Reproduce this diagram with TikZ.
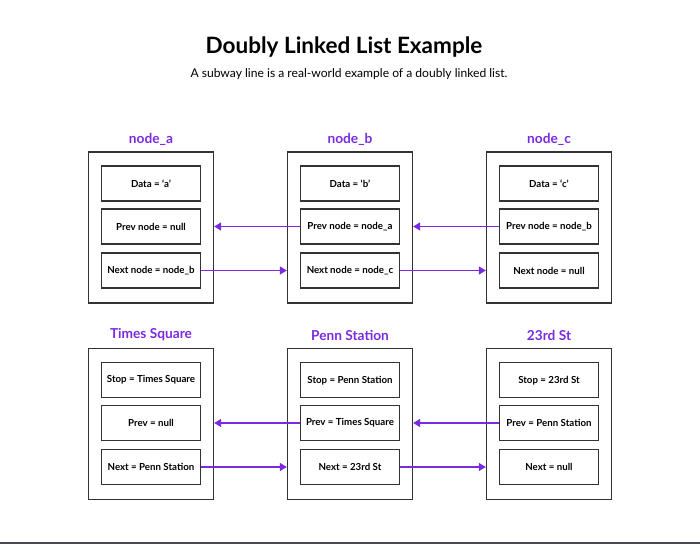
\documentclass[tikz,border=0pt]{standalone}
\usepackage{fontspec}
\setmainfont{Lato}
\usetikzlibrary{arrows.meta}
\definecolor{listpurple}{HTML}{7A2BE2}
\definecolor{boxgray}{HTML}{333333}
\definecolor{rulegray}{HTML}{4A4A55}
\tikzset{
	outerbox/.style={draw=boxgray, line width=1.3pt, minimum width=125pt, minimum height=151pt, inner sep=0pt},
	fieldbox/.style={draw=boxgray, line width=1.3pt, minimum width=99pt, minimum height=35pt, inner sep=0pt, font=\fontsize{9.7}{12}\selectfont\bfseries},
	heading/.style={text=listpurple, font=\fontsize{13.7}{16}\selectfont\bfseries},
	link/.style={draw=listpurple, line width=1.2pt, -{Triangle[length=7pt,width=8pt]}}
}

\begin{document}
\begin{tikzpicture}[x=1pt, y=-1pt]
		%%%%% START %%%%%
		\useasboundingbox (0,0) rectangle (700,544);
		
		\node (title) at (344,47) {\fontsize{22.5}{27}\selectfont\bfseries Doubly Linked List Example};
		\node (subtitle) at (349,74) {\fontsize{12.1}{14}\selectfont A subway line is a real-world example of a doubly linked list.};
		
		% top row
		\node[heading] (aHead) at (151,139) {node\_a};
		\node[outerbox] (aBox) at (151,227.5) {};
		\node[fieldbox] (aData) at (151,183.5) {Data = ‘a’};
		\node[fieldbox] (aPrev) at (151,226.5) {Prev node = null};
		\node[fieldbox] (aNext) at (151,270.5) {Next node = node\_b};
		
		\node[heading] (bHead) at (350,139) {node\_b};
		\node[outerbox] (bBox) at (350,227.5) {};
		\node[fieldbox] (bData) at (350,183.5) {Data = ‘b’};
		\node[fieldbox] (bPrev) at (350,226.5) {Prev node = node\_a};
		\node[fieldbox] (bNext) at (350,270.5) {Next node = node\_c};
		
		\node[heading] (cHead) at (549,139) {node\_c};
		\node[outerbox] (cBox) at (549,227.5) {};
		\node[fieldbox] (cData) at (549,183.5) {Data = ‘c’};
		\node[fieldbox] (cPrev) at (549,226.5) {Prev node = node\_b};
		\node[fieldbox] (cNext) at (549,270.5) {Next node = null};
		
		\draw[link] (bPrev.west) -- (bPrev.west -| aBox.east);
		\draw[link] (cPrev.west) -- (cPrev.west -| bBox.east);
		\draw[link] (aNext.east) -- (aNext.east -| bBox.west);
		\draw[link] (bNext.east) -- (bNext.east -| cBox.west);
		
		% bottom row
		\node[heading] (timesHead) at (151,335) {Times Square};
		\node[outerbox] (timesBox) at (151,424.2) {};
		\node[fieldbox] (timesStop) at (151,380.2) {Stop = Times Square};
		\node[fieldbox] (timesPrev) at (151,423) {Prev = null};
		\node[fieldbox] (timesNext) at (151,467) {Next = Penn Station};
		
		\node[heading] (pennHead) at (350,335) {Penn Station};
		\node[outerbox] (pennBox) at (350,424.2) {};
		\node[fieldbox] (pennStop) at (350,380.2) {Stop = Penn Station};
		\node[fieldbox] (pennPrev) at (350,423) {Prev = Times Square};
		\node[fieldbox] (pennNext) at (350,467) {Next = 23rd St};
		
		\node[heading] (rdHead) at (549,335) {23rd St};
		\node[outerbox] (rdBox) at (549,424.2) {};
		\node[fieldbox] (rdStop) at (549,380.2) {Stop = 23rd St};
		\node[fieldbox] (rdPrev) at (549,423) {Prev = Penn Station};
		\node[fieldbox] (rdNext) at (549,467) {Next = null};
		
		\draw[link] (pennPrev.west) -- (pennPrev.west -| timesBox.east);
		\draw[link] (rdPrev.west) -- (rdPrev.west -| pennBox.east);
		\draw[link] (timesNext.east) -- (timesNext.east -| pennBox.west);
		\draw[link] (pennNext.east) -- (pennNext.east -| rdBox.west);
		
		\fill[rulegray] (0,542.2) rectangle (700,544);
		
		%%%%% END %%%%%
\end{tikzpicture}
\end{document}
